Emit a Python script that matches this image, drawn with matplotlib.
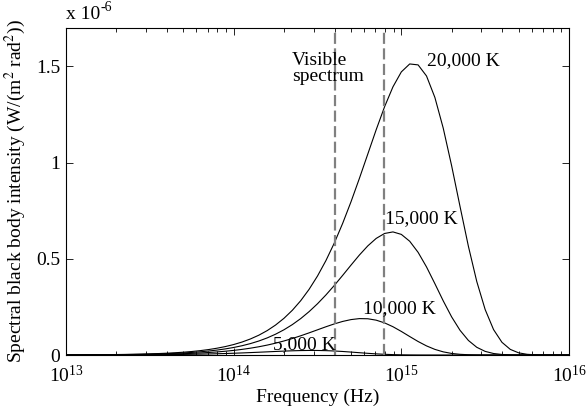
import matplotlib
matplotlib.use("Agg")
import matplotlib.pyplot as plt
from matplotlib.ticker import LogLocator, LogFormatterMathtext, FixedLocator, FixedFormatter, NullFormatter

plt.rcParams['font.family'] = ['Liberation Serif', 'DejaVu Serif']
plt.rcParams['mathtext.fontset'] = 'stix'

# Frequencies (Hz), log-spaced samples read along the x axis
freq_hz = [
    1.000e13, 1.122e13, 1.259e13, 1.413e13, 1.585e13, 1.778e13, 1.995e13, 2.239e13, 2.512e13, 2.818e13,
    3.162e13, 3.548e13, 3.981e13, 4.467e13, 5.012e13, 5.623e13, 6.310e13, 7.079e13, 7.943e13, 8.913e13,
    1.000e14, 1.122e14, 1.259e14, 1.413e14, 1.585e14, 1.778e14, 1.995e14, 2.239e14, 2.512e14, 2.818e14,
    3.162e14, 3.548e14, 3.981e14, 4.467e14, 5.012e14, 5.623e14, 6.310e14, 7.079e14, 7.943e14, 8.913e14,
    1.000e15, 1.122e15, 1.259e15, 1.413e15, 1.585e15, 1.778e15, 1.995e15, 2.239e15, 2.512e15, 2.818e15,
    3.162e15, 3.548e15, 3.981e15, 4.467e15, 5.012e15, 5.623e15, 6.310e15, 7.079e15, 7.943e15, 8.913e15,
    1.000e16,
]

# Spectral intensity in units of 1e-6 W/(m^2 rad^2)
intensity_20000K = [
    0.000607, 0.000763, 0.000959, 0.001205, 0.001514, 0.001902, 0.002388, 0.002998, 0.003761, 0.004718,
    0.005914, 0.007411, 0.009281, 0.01162, 0.01453, 0.01815, 0.02266, 0.02825, 0.03519, 0.04377,
    0.05437, 0.06741, 0.08342, 0.1030, 0.1269, 0.1558, 0.1907, 0.2326, 0.2825, 0.3415,
    0.4106, 0.4904, 0.5817, 0.6842, 0.7970, 0.9184, 1.0448, 1.1711, 1.2905, 1.3941,
    1.4718, 1.5131, 1.5082, 1.4506, 1.3391, 1.1792, 0.9840, 0.7722, 0.5650, 0.3820,
    0.2363, 0.1322, 0.06607, 0.02910, 0.01111, 0.003620, 0.000985, 0.000219, 0.000039, 0.000005,
    0.0,
]
intensity_15000K = [
    0.000454, 0.000570, 0.000716, 0.000899, 0.001129, 0.001417, 0.001778, 0.002229, 0.002794, 0.003501,
    0.004379, 0.005479, 0.006849, 0.008554, 0.01067, 0.01331, 0.01656, 0.02059, 0.02554, 0.03164,
    0.03911, 0.04823, 0.05932, 0.07274, 0.08888, 0.1082, 0.1311, 0.1581, 0.1894, 0.2255,
    0.2664, 0.3119, 0.3614, 0.4139, 0.4675, 0.5198, 0.5673, 0.6061, 0.6318, 0.6399,
    0.6270, 0.5913, 0.5337, 0.4579, 0.3709, 0.2814, 0.1982, 0.1284, 0.07562, 0.04005,
    0.01883, 0.007740, 0.002736, 0.000817, 0.000202, 0.000040, 0.000006, 0.0, 0.0, 0.0,
    0.0,
]
intensity_10000K = [
    0.000300, 0.000377, 0.000472, 0.000592, 0.000743, 0.000931, 0.001166, 0.001459, 0.001824, 0.002279,
    0.002845, 0.003548, 0.004420, 0.005496, 0.006826, 0.008463, 0.01047, 0.01293, 0.01592, 0.01956,
    0.02394, 0.02920, 0.03546, 0.04286, 0.05151, 0.06152, 0.07296, 0.08580, 0.09994, 0.1151,
    0.1309, 0.1467, 0.1616, 0.1745, 0.1841, 0.1892, 0.1884, 0.1811, 0.1670, 0.1470,
    0.1225, 0.09597, 0.07013, 0.04734, 0.02922, 0.01631, 0.008129, 0.003571, 0.001360, 0.000441,
    0.000120, 0.000027, 0.000005, 0.0, 0.0, 0.0, 0.0, 0.0, 0.0, 0.0,
    0.0,
]
intensity_5000K = [
    0.000146, 0.000183, 0.000229, 0.000286, 0.000357, 0.000446, 0.000555, 0.000690, 0.000857, 0.001063,
    0.001315, 0.001623, 0.001999, 0.002455, 0.003005, 0.003664, 0.004450, 0.005377, 0.006463, 0.007718,
    0.009151, 0.01076, 0.01253, 0.01443, 0.01641, 0.01838, 0.02024, 0.02184, 0.02304, 0.02365,
    0.02354, 0.02261, 0.02083, 0.01831, 0.01524, 0.01193, 0.008701, 0.005863, 0.003611, 0.002012,
    0.001001, 0.000438, 0.000166, 0.000054, 0.000015, 0.000003, 0.0, 0.0, 0.0, 0.0,
    0.0, 0.0, 0.0, 0.0, 0.0, 0.0, 0.0, 0.0, 0.0, 0.0,
    0.0,
]

visible_edges_hz = [4.0e14, 7.9e14]

curve_labels = ["20,000 K", "15,000 K", "10,000 K", "5,000 K"]
label_x = [1.42e15, 8.0e14, 5.87e14, 1.72e14]
label_y = [1.53, 0.71, 0.2425, 0.0555]

y_ticks = [0, 0.5, 1, 1.5]
y_ticklabels = ["0", "0.5", "1", "1.5"]

fig = plt.figure(figsize=(5.87, 4.16), dpi=100)
ax = fig.add_axes([66 / 587, 61 / 416, (569 - 66) / 587, (355 - 28) / 416])

for series in [intensity_20000K, intensity_15000K, intensity_10000K, intensity_5000K]:
    ax.plot(freq_hz, series, color='black', linewidth=0.8)

for xv in visible_edges_hz:
    ax.axvline(xv, color='#808080', linestyle=(0, (5, 2)), linewidth=1.6)

ax.set_xscale('log')
ax.set_xlim(1e13, 1e16)
ax.set_ylim(0, 1.7)

fs = 14
for lab, lx, ly in zip(curve_labels, label_x, label_y):
    ax.text(lx, ly, lab, fontsize=fs, ha='left', va='center')
ax.text(2.22e14, 1.49, "Visible\nspectrum", fontsize=fs, ha='left', va='center', linespacing=0.95)

ax.xaxis.set_major_locator(LogLocator(base=10, numticks=10))
ax.xaxis.set_major_formatter(LogFormatterMathtext())
ax.xaxis.set_minor_locator(LogLocator(base=10, subs=range(2, 10), numticks=30))
ax.xaxis.set_minor_formatter(NullFormatter())
ax.yaxis.set_major_locator(FixedLocator(y_ticks))
ax.yaxis.set_major_formatter(FixedFormatter(y_ticklabels))

ax.tick_params(which='both', direction='in', top=True, right=True, labelsize=fs, width=0.6)
ax.tick_params(which='major', length=5)
ax.tick_params(which='minor', length=3)
ax.tick_params(axis='x', which='major', pad=7)
ax.tick_params(axis='y', which='major', pad=4)
for sp in ax.spines.values():
    sp.set_linewidth(0.8)

ax.set_xlabel("Frequency (Hz)", fontsize=fs, labelpad=2)
ax.set_ylabel("Spectral black body intensity (W/(m$^2$ rad$^2$))", fontsize=fs, labelpad=6)
base_txt = ax.text(0.0, 1.015, "x 10", transform=ax.transAxes, fontsize=fs, ha='left', va='bottom')
ax.annotate("-6", xy=(1.0, 0.55), xycoords=base_txt, fontsize=10, ha='left', va='bottom')

fig.savefig("out.png", dpi=100)
